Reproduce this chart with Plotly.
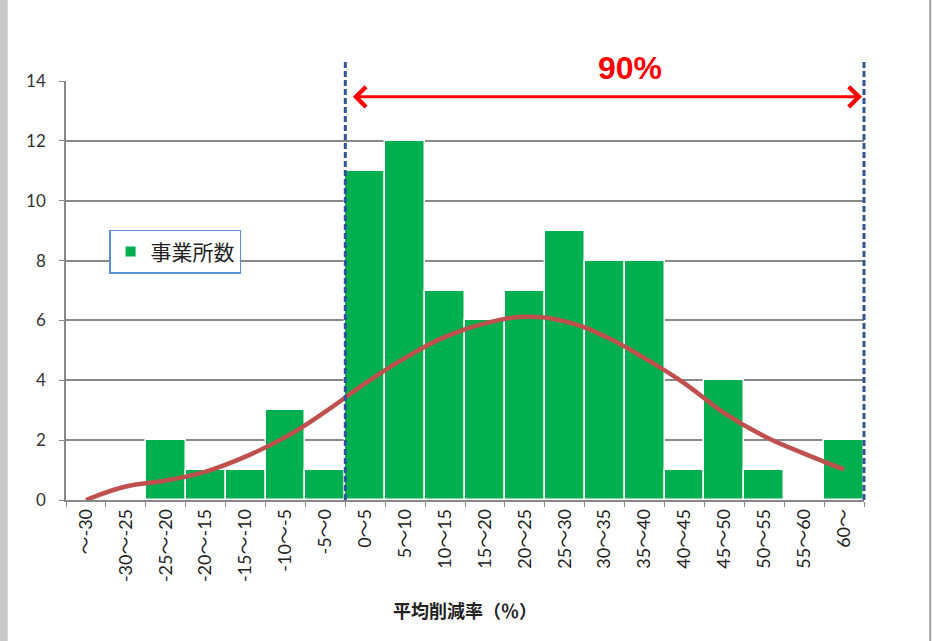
import plotly.graph_objects as go

categories = ["～-30", "-30～-25", "-25～-20", "-20～-15", "-15～-10", "-10～-5", "-5～0",
              "0～5", "5～10", "10～15", "15～20", "20～25", "25～30", "30～35",
              "35～40", "40～45", "45～50", "50～55", "55～60", "60～"]
counts = [0, 0, 2, 1, 1, 3, 1, 11, 12, 7, 6, 7, 9, 8, 8, 1, 4, 1, 0, 2]
curve = [0.0, 0.45, 0.65, 0.95, 1.45, 2.1, 2.95, 3.9, 4.75, 5.45, 5.9, 6.12,
         5.97, 5.47, 4.74, 3.9, 2.9, 2.13, 1.55, 1.02]
y_ticks = [0, 2, 4, 6, 8, 10, 12, 14]
label_90 = "90%"

font_fam = "Lato, Noto Sans CJK JP, sans-serif"
n = len(categories)

fig = go.Figure()
fig.add_trace(go.Bar(x=categories, y=counts, name="事業所数",
                     marker=dict(color="#00B050", line=dict(color="white", width=1.5))))
fig.add_trace(go.Scatter(x=categories, y=curve, mode="lines", showlegend=False,
                         line=dict(color="#C0504D", width=4.5, shape="spline", smoothing=1.2)))

# dashed range markers (boundary before "0～5" and the right end) and the 90% arrow
for idx in [categories.index("0～5"), n]:
    fig.add_shape(type="line", x0=idx / n, x1=idx / n, y0=0, y1=1.046,
                  xref="paper", yref="paper",
                  line=dict(color="#2F5597", width=3, dash="6px,3px"))
fig.add_annotation(x=19.45, y=13.47, ax=6.65, ay=13.47, xref="x", yref="y",
                   axref="x", ayref="y", text="", showarrow=True,
                   arrowside="end+start", arrowhead=4, arrowsize=1.3,
                   arrowwidth=3, arrowcolor="#FF0000")
fig.add_annotation(x=13.63, y=1.031, xref="x", yref="paper", yanchor="middle",
                   text="<b>" + label_90 + "</b>", showarrow=False,
                   font=dict(family="Liberation Sans, Arial", size=32, color="#FF0000"))

# outer frame
fig.add_shape(type="line", xref="paper", yref="paper", x0=1.083, x1=1.083, y0=-0.35, y1=1.2,
              line=dict(color="#A0A0A0", width=2))
fig.add_shape(type="rect", xref="paper", yref="paper", x0=-0.083, x1=-0.073, y0=-0.35, y1=1.2,
              line=dict(width=0), fillcolor="#C8C8C8", layer="below")

fig.update_layout(
    width=932, height=641,
    margin=dict(l=66, r=68, t=81, b=141),
    paper_bgcolor="white", plot_bgcolor="white",
    bargap=0.0,
    font=dict(family=font_fam, size=15, color="#222"),
    showlegend=True,
    legend=dict(x=0.054, y=0.645, xanchor="left", yanchor="top",
                bgcolor="white", bordercolor="#5B8FD8", borderwidth=1.5,
                font=dict(size=21), itemsizing="constant"),
)
fig.update_xaxes(type="category", range=[-0.5, n - 0.5], tickangle=-90, tickson="boundaries",
                 ticks="outside", ticklen=5, tickcolor="#888", showline=True, linecolor="#888",
                 linewidth=1.5, showgrid=False, tickfont=dict(size=18),
                 title=dict(text="<b>平均削減率（％）</b>", font=dict(size=18), standoff=24))
fig.update_yaxes(range=[0, 14], tickvals=y_ticks, ticks="outside", ticklen=5, tickcolor="#888",
                 showline=True, linecolor="#888", linewidth=1.5, gridcolor="#888", gridwidth=1.5,
                 zeroline=False, tickfont=dict(size=17, color="#333"), ticklabelstandoff=10)

fig.write_html("out.html", config={"displayModeBar": False},
               post_script="document.body.style.margin='0';")
